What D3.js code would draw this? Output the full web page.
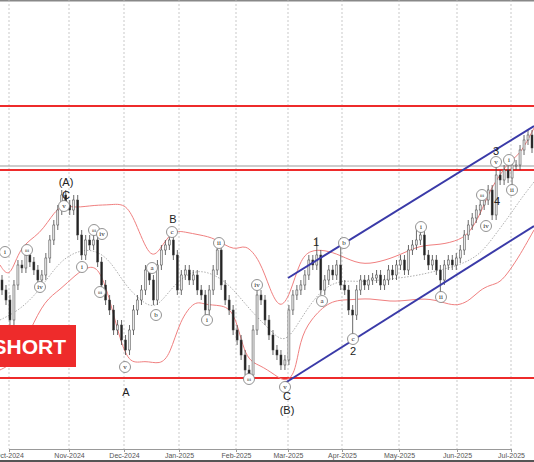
<!DOCTYPE html><html><head><meta charset="utf-8">
<script src="https://cdn.jsdelivr.net/npm/d3@7"></script>
<style>body{margin:0;background:#fff}svg{display:block}</style></head><body>
<script>
const closesY = [290,300,320,285,265,268,255,262,270,280,275,258,240,225,210,195,205,210,200,235,255,240,245,240,262,285,300,310,330,325,340,350,330,310,300,290,270,280,300,265,250,245,240,255,290,275,270,280,275,290,295,310,290,270,250,285,300,310,330,340,355,370,375,330,295,300,320,335,350,355,365,360,310,295,290,285,275,260,265,255,290,280,270,275,265,285,290,310,315,290,280,285,280,278,275,285,280,270,275,265,260,270,250,245,240,235,255,265,260,270,280,265,260,265,258,250,235,225,218,210,205,200,190,215,175,180,170,178,165,165,150,140,135,148];
const closes = closesY.map(y => 450 - y);
const longWicks = {79:[237,0],85:[238,0],88:[0,340],104:[226,0],110:[0,294],124:[160,0],128:[0,190]};
const upperBand = [[0,265],[10,280],[20,245],[40,235],[55,210],[65,205],[75,208],[95,205],[110,205],[125,203],[135,220],[150,260],[160,250],[172,230],[185,232],[200,235],[215,238],[235,252],[245,243],[260,260],[270,290],[280,310],[290,295],[300,260],[310,250],[325,250],[340,255],[360,265],[380,262],[400,255],[420,245],[440,245],[460,240],[470,232],[480,215],[490,190],[500,175],[510,160],[520,155],[534,128]];
const lowerBand = [[0,370],[10,365],[20,355],[30,330],[45,300],[60,290],[75,275],[90,265],[100,270],[110,300],[120,340],[130,365],[145,360],[160,365],[170,355],[180,320],[195,300],[205,305],[220,305],[235,310],[245,360],[260,365],[275,375],[285,382],[295,375],[300,340],[310,320],[330,300],[350,300],[370,298],[390,302],[410,300],[430,298],[450,305],[460,305],[470,300],[480,290],[490,285],[500,283],[510,270],[520,255],[534,230]];
const midBand = [[0,320],[20,310],[40,290],[60,260],[80,250],[95,250],[110,260],[125,285],[140,300],[155,310],[170,290],[185,275],[200,270],[215,275],[230,285],[250,310],[270,330],[285,345],[300,320],[320,290],[340,280],[360,282],[380,280],[400,278],[420,275],[440,270],[460,265],[480,255],[495,235],[510,215],[520,200],[534,182]];
const months = ["2024-10-01","2024-11-01","2024-12-01","2025-01-01","2025-02-01","2025-03-01","2025-04-01","2025-05-01","2025-06-01","2025-07-01"];
const monthX = [9,69,124,179,236,288,342,399,457,511];
const levels = [344,280,72];
const greyLevel = 284;
const channelUpper = [[288,278],[534,126]];
const channelLower = [[285,383],[534,226]];
const circled = [[5,252,"i"],[27,250,"iii"],[40,287,"iv"],[64,206,"v"],[82,267,"i"],[94,230,"iii"],[102,234,"iv"],[100,292,"iii"],[125,367,"v"],[152,268,"a"],[156,315,"b"],[172,232,"c"],[207,320,"i"],[219,243,"ii"],[249,379,"iii"],[257,285,"iv"],[285,387,"v"],[322,301,"a"],[344,243,"b"],[353,339,"c"],[421,227,"i"],[441,297,"ii"],[486,226,"iv"],[482,195,"iii"],[496,162,"v"],[509,160,"i"],[512,190,"ii"]];
const bigLabels = [[66,186,"(A)"],[66,199,"C"],[173,223,"B"],[126,396,"A"],[316,246,"1"],[353,355,"2"],[496,155,"3"],[497,205,"4"],[287,400,"C"],[287,414,"(B)"]];

const W=534,H=462;
const svg=d3.select("body").append("svg").attr("width",W).attr("height",H).style("font-family","Liberation Sans, Arial");
const y=d3.scaleLinear().domain([0,450]).range([450,0]);
const xi=d3.scaleLinear().domain([0,closes.length-1]).range([2,532]);
const xt=d3.scaleTime().domain(months.map(d=>new Date(d))).range(monthX);
svg.append("rect").attr("x",0).attr("y",0).attr("width",W).attr("height",1.5).attr("fill","#888");
svg.selectAll(".g").data(months).enter().append("line").attr("x1",d=>xt(new Date(d))).attr("x2",d=>xt(new Date(d))).attr("y1",0).attr("y2",449).attr("stroke","#bbb").attr("stroke-dasharray","2,2").attr("stroke-width",0.8);
const ax=svg.append("g").attr("transform","translate(0,449)").call(d3.axisBottom(xt).tickValues(months.map(d=>new Date(d))).tickFormat(d3.timeFormat("%b-%Y")).tickSize(3));
ax.select(".domain").attr("stroke","#999");
ax.selectAll("text").attr("font-size",7).attr("fill","#555").attr("dy","0.4em");
ax.selectAll("line").attr("stroke","#999");
svg.append("rect").attr("x",0).attr("y",460).attr("width",W).attr("height",2).attr("fill","#555");
svg.append("line").attr("x1",0).attr("x2",W).attr("y1",y(greyLevel)).attr("y2",y(greyLevel)).attr("stroke","#999").attr("stroke-width",1);
svg.selectAll(".lv").data(levels).enter().append("line").attr("x1",0).attr("x2",W).attr("y1",d=>y(d)).attr("y2",d=>y(d)).attr("stroke","#ee2b2b").attr("stroke-width",2);
const ln=d3.line().x(d=>d[0]).y(d=>y(450-d[1])).curve(d3.curveBasis);
svg.append("path").attr("d",ln(upperBand)).attr("fill","none").attr("stroke","#f08080").attr("stroke-width",1);
svg.append("path").attr("d",ln(lowerBand)).attr("fill","none").attr("stroke","#f08080").attr("stroke-width",1);
svg.append("path").attr("d",ln(midBand)).attr("fill","none").attr("stroke","#999").attr("stroke-width",0.8).attr("stroke-dasharray","1.5,1.5");
const g=svg.append("g");
closes.forEach((c,i)=>{
  const o=i?closes[i-1]:c+10;
  let hi=Math.max(o,c)+5, lo=Math.min(o,c)-5;
  if(longWicks[i]){ if(longWicks[i][0]) hi=450-longWicks[i][0]; if(longWicks[i][1]) lo=450-longWicks[i][1]; }
  const cx=xi(i), up=c>=o;
  g.append("line").attr("x1",cx).attr("x2",cx).attr("y1",y(hi)).attr("y2",y(lo)).attr("stroke","#444").attr("stroke-width",0.8);
  g.append("rect").attr("x",cx-1).attr("width",2).attr("y",y(Math.max(o,c))).attr("height",Math.max(1,Math.abs(y(o)-y(c))))
   .attr("fill",up?"#e8e8e8":"#222").attr("stroke","#444").attr("stroke-width",0.5);
});
[channelUpper,channelLower].forEach(p=>svg.append("line").attr("x1",p[0][0]).attr("y1",p[0][1]).attr("x2",p[1][0]).attr("y2",p[1][1]).attr("stroke","#3a3aa8").attr("stroke-width",2));
const cg=svg.selectAll(".c").data(circled).enter().append("g").attr("transform",d=>`translate(${d[0]},${d[1]})`);
cg.append("circle").attr("r",5.5).attr("fill","#fff").attr("stroke","#777").attr("stroke-width",0.8);
cg.append("text").text(d=>d[2]).attr("text-anchor","middle").attr("dy","0.33em").attr("font-size",d=>d[2].length>2?5:7).attr("font-family","Liberation Serif").attr("fill","#222");
svg.selectAll(".b").data(bigLabels).enter().append("text").attr("x",d=>d[0]).attr("y",d=>d[1]).text(d=>d[2]).attr("text-anchor","middle").attr("font-size",11).attr("fill","#222");
svg.append("rect").attr("x",0).attr("y",325).attr("width",76).attr("height",42).attr("fill","#ee2b2b");
svg.append("text").attr("x",66).attr("y",354).attr("text-anchor","end").attr("font-size",21).attr("font-weight","bold").attr("fill","#fff").text("SHORT");
</script></body></html>
